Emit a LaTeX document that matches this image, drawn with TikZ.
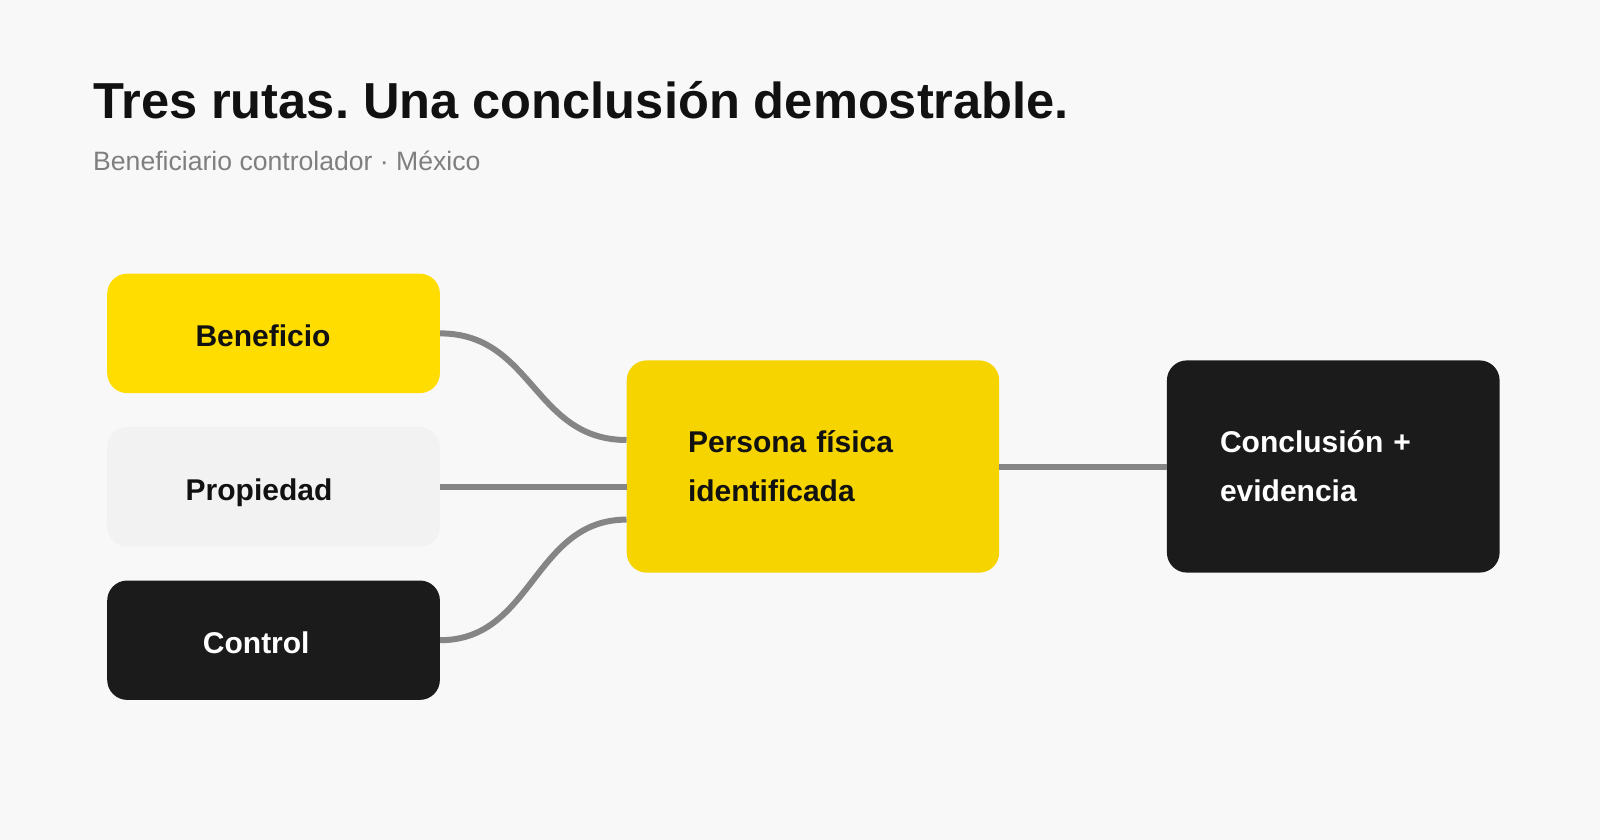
\documentclass[tikz,border=0pt]{standalone}
\usepackage{fontspec}
\setmainfont{Liberation Sans}
\usetikzlibrary{positioning}
\frenchspacing
\definecolor{fondo}{HTML}{F8F8F8}
\definecolor{amarillo}{HTML}{FFDD00}
\definecolor{oro}{HTML}{F5D400}
\definecolor{claro}{HTML}{F2F2F2}
\definecolor{negro}{HTML}{1B1B1B}
\definecolor{tinta}{HTML}{111111}
\definecolor{linea}{HTML}{858585}
\definecolor{suave}{HTML}{7F7F7F}
\tikzset{
    every picture/.style={
        x=1pt,y=-1pt,node distance=33.6pt,
        ruta/.style={rounded corners=20pt,inner sep=0pt,
            minimum width=332.7pt,minimum height=119.4pt},
        rotulo/.style={font=\fontsize{30}{36}\selectfont\bfseries,
            text height=22pt,text depth=0pt,yshift=-2.5pt},
        bloque/.style={rounded corners=20pt,inner ysep=0pt,align=left,
            minimum height=212.2pt,font=\fontsize{30}{49}\selectfont\bfseries},
        conector/.style={draw=linea,line width=6pt}
    }
}
\begin{document}
\begin{tikzpicture}
    \path[fill=fondo] (0,0) rectangle (1600,840);
    \node[anchor=base west,inner sep=0pt,text=tinta,
          font=\fontsize{50.6}{60}\selectfont\bfseries] (titulo) at (93,119)
          {Tres rutas. Una conclusión demostrable.};
    \node[anchor=base west,inner sep=0pt,text=suave,
          font=\fontsize{26.6}{30}\selectfont] (subtitulo) at (93,170.5)
          {Beneficiario controlador · México};
    % tres rutas
    \node[ruta,fill=amarillo,anchor=north west,
          label={[rotulo,text=tinta,xshift=-10.5pt]center:Beneficio}] (ben) at (107,273.5) {};
    \node[ruta,fill=claro,
          label={[rotulo,text=tinta,xshift=-14.5pt]center:Propiedad}] (prop) [below=of ben] {};
    \node[ruta,fill=negro,
          label={[rotulo,text=white,xshift=-17.3pt]center:Control}] (ctrl) [below=of prop] {};
    % persona y conclusion
    \node[bloque,fill=oro,text=tinta,anchor=north west,
          text width=249.9pt,inner xsep=61.3pt] (pers) at (626.5,360.2)
          {Persona física\\identificada};
    \node[bloque,fill=negro,text=white,
          text width=226.5pt,inner xsep=53.1pt] (concl) [right=167.3pt of pers]
          {Conclusión +\\evidencia};
    \draw[conector] (ben.east) .. controls +(93,0) and +(-93,0) .. ([yshift=26.5pt]pers.west);
    \draw[conector] (prop.east) -- (pers.west |- prop.east);
    \draw[conector] (ctrl.east) .. controls +(93,0) and +(-93,0) .. ([yshift=-53.1pt]pers.west);
    \draw[conector] (pers.east) -- (concl.west);
\end{tikzpicture}
\end{document}
